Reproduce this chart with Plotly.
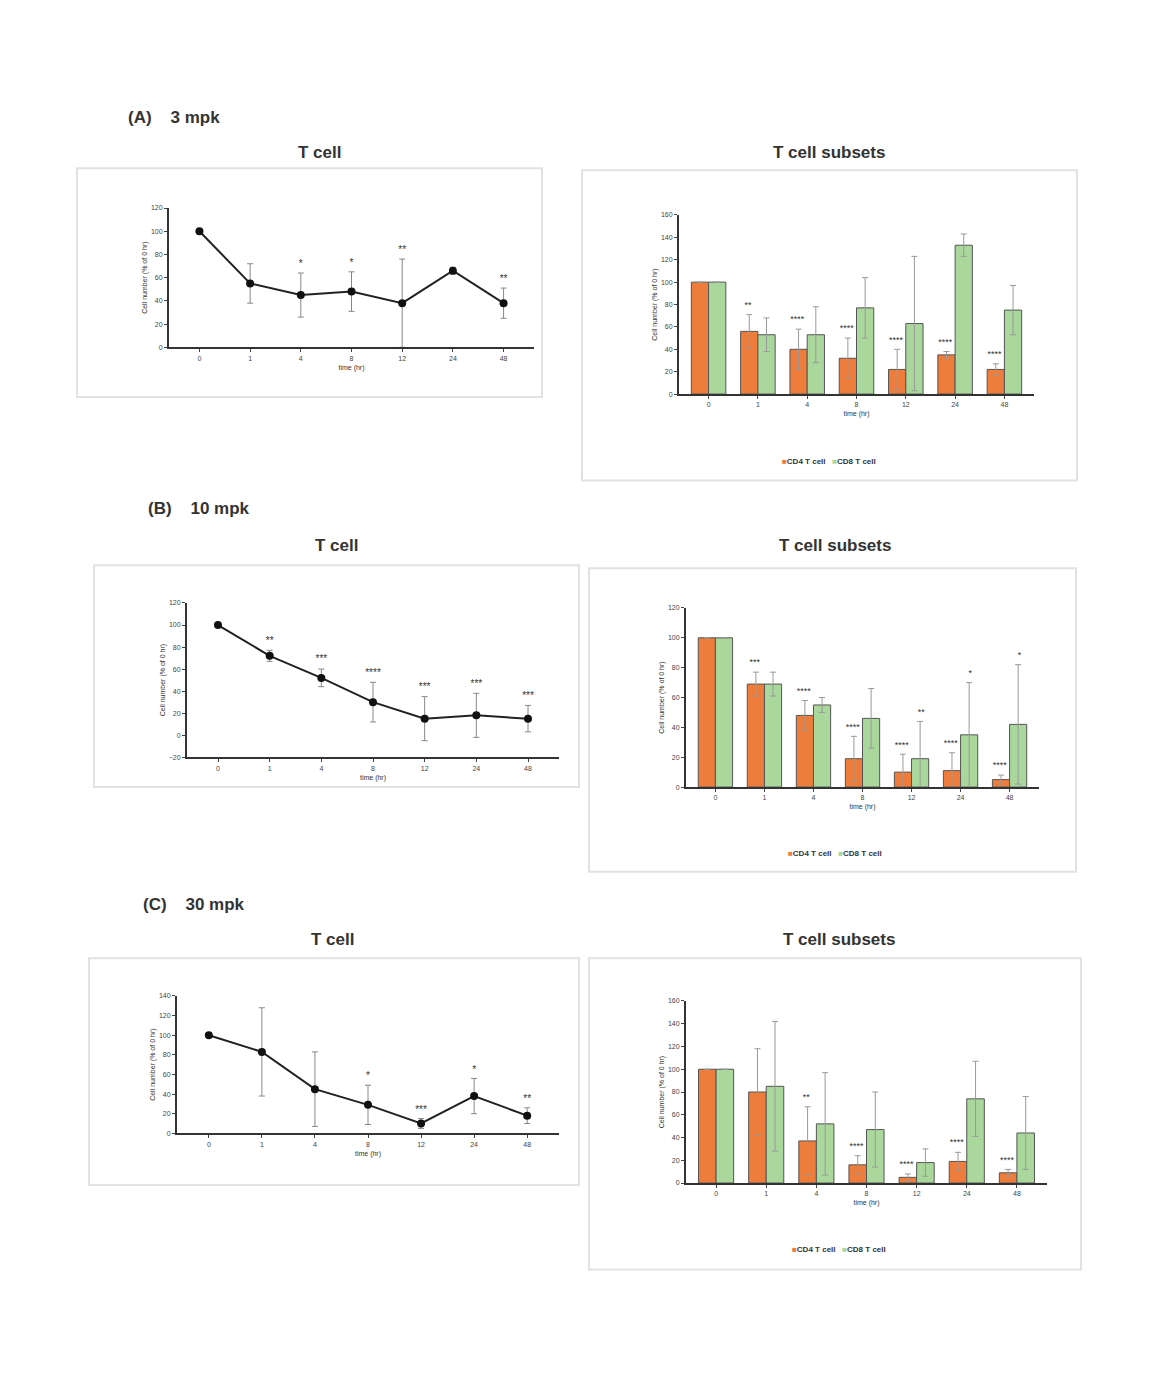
import plotly.graph_objects as go

W, H = 1160, 1384
DX, DY = 9, 11  # page body margin in the browser
HOURS = ["0", "1", "4", "8", "12", "24", "48"]

# panel A, 3 mpk
a_tcell = [100, 55, 45, 48, 38, 66, 38]
a_tcell_err = [0, 17, 19, 17, 38, 3, 13]
a_tcell_sig = ["", "", "*", "*", "**", "", "**"]
a_cd4 = [100, 56, 40, 32, 22, 35, 22]
a_cd4_err = [0, 15, 18, 18, 18, 3, 5]
a_cd4_sig = ["", "**", "****", "****", "****", "****", "****"]
a_cd8 = [100, 53, 53, 77, 63, 133, 75]
a_cd8_err = [0, 15, 25, 27, 60, 10, 22]
a_cd8_sig = ["", "", "", "", "", "", ""]

# panel B, 10 mpk
b_tcell = [100, 72, 52, 30, 15, 18, 15]
b_tcell_err = [0, 5, 8, 18, 20, 20, 12]
b_tcell_sig = ["", "**", "***", "****", "***", "***", "***"]
b_cd4 = [100, 69, 48, 19, 10, 11, 5]
b_cd4_err = [0, 8, 10, 15, 12, 12, 3]
b_cd4_sig = ["", "***", "****", "****", "****", "****", "****"]
b_cd8 = [100, 69, 55, 46, 19, 35, 42]
b_cd8_err = [0, 8, 5, 20, 25, 35, 40]
b_cd8_sig = ["", "", "", "", "**", "*", "*"]

# panel C, 30 mpk
c_tcell = [100, 83, 45, 29, 10, 38, 18]
c_tcell_err = [0, 45, 38, 20, 5, 18, 8]
c_tcell_sig = ["", "", "", "*", "***", "*", "**"]
c_cd4 = [100, 80, 37, 16, 5, 19, 9]
c_cd4_err = [0, 38, 30, 8, 3, 8, 3]
c_cd4_sig = ["", "", "**", "****", "****", "****", "****"]
c_cd8 = [100, 85, 52, 47, 18, 74, 44]
c_cd8_err = [0, 57, 45, 33, 12, 33, 32]
c_cd8_sig = ["", "", "", "", "", "", ""]

ORANGE = "#ee7d3c"
GREEN = "#a9d79c"

fig = go.Figure()
shapes, annots = [], []


def px_dom(x0, x1, y0, y1):
    x0, x1, y0, y1 = x0 - DX, x1 - DX, y0 - DY, y1 - DY
    return [x0 / W, x1 / W], [1 - y1 / H, 1 - y0 / H]


def box(x0, y0, x1, y1):
    xd, yd = px_dom(x0, x1, y0, y1)
    shapes.append(dict(type="rect", xref="paper", yref="paper", x0=xd[0], x1=xd[1],
                       y0=yd[0], y1=yd[1], line=dict(color="#e2e2e2", width=2)))


def text(x, y, s, size, bold=True):
    annots.append(dict(xref="paper", yref="paper", x=(x - DX) / W, y=1 - (y - DY) / H,
                       text=f"<b>{s}</b>" if bold else s,
                       showarrow=False, font=dict(size=size, color="#333"), xanchor="center", yanchor="middle"))


def axes(n, plot, yrange, dtick):
    xd, yd = px_dom(*plot)
    sfx = "" if n == 1 else str(n)
    common = dict(showline=True, linecolor="#333", linewidth=2, ticks="outside", ticklen=3,
                  tickfont=dict(size=7, color="#444"), showgrid=False, zeroline=False,
                  tickvals=list(range(7)) if False else None)
    fig.update_layout(**{
        f"xaxis{sfx}": dict(domain=xd, anchor=f"y{sfx}", type="linear", tickvals=list(range(7)), ticktext=HOURS,
                            range=[-0.6, 6.6], title=dict(text="time (hr)", font=dict(size=7), standoff=4),
                            **{k: v for k, v in common.items() if k != "tickvals"}),
        f"yaxis{sfx}": dict(domain=yd, anchor=f"x{sfx}", range=yrange, dtick=dtick,
                            title=dict(text="Cell number (% of 0 hr)", font=dict(size=7), standoff=2),
                            **{k: v for k, v in common.items() if k != "tickvals"}),
    })
    return f"x{sfx}", f"y{sfx}"


def line_panel(n, plot, vals, err, sig, yrange, dtick):
    xa, ya = axes(n, plot, yrange, dtick)
    xs = list(range(7))
    fig.add_trace(go.Scatter(x=xs, y=vals, xaxis=xa, yaxis=ya, mode="lines+markers",
                             line=dict(color="#222", width=2), marker=dict(size=8, color="#111"),
                             error_y=dict(array=err, color="#888", thickness=1, width=3)))
    fig.add_trace(go.Scatter(x=xs, y=[v + e + (yrange[1] - yrange[0]) * 0.06 for v, e in zip(vals, err)],
                             xaxis=xa, yaxis=ya, mode="text", text=sig, textfont=dict(size=10, color="#333")))


def bar_panel(n, plot, cd4, e4, s4, cd8, e8, s8, yrange, dtick):
    xa, ya = axes(n, plot, yrange, dtick)
    xs = list(range(7))
    for vals, err, sig, col, off in [(cd4, e4, s4, ORANGE, -0.2), (cd8, e8, s8, GREEN, 0.2)]:
        fig.add_trace(go.Bar(x=xs, y=vals, xaxis=xa, yaxis=ya,
                             marker=dict(color=col, line=dict(color="#555", width=1)),
                             error_y=dict(array=err, color="#999", thickness=1, width=3)))
        fig.add_trace(go.Scatter(x=[i + off for i in xs],
                                 y=[v + e + yrange[1] * 0.05 for v, e in zip(vals, err)], xaxis=xa, yaxis=ya,
                                 mode="text", text=sig, textfont=dict(size=9, color="#333")))


LEG = "<span style='color:%s'>■</span>CD4 T cell&nbsp;&nbsp;&nbsp;<span style='color:%s'>■</span>CD8 T cell" % (ORANGE, GREEN)

# panel A
box(78, 168, 543, 398)
box(583, 170, 1078, 482)
line_panel(1, (170, 535, 208, 348), a_tcell, a_tcell_err, a_tcell_sig, [0, 120], 20)
bar_panel(2, (680, 1035, 215, 395), a_cd4, a_cd4_err, a_cd4_sig, a_cd8, a_cd8_err, a_cd8_sig, [0, 160], 20)
text(175, 117, "(A)&nbsp;&nbsp;&nbsp;&nbsp;3 mpk", 17)
text(320, 152, "T cell", 17)
text(830, 152, "T cell subsets", 17)
text(830, 463, LEG, 8)

# panel B
box(95, 567, 580, 790)
box(590, 570, 1077, 875)
line_panel(3, (188, 560, 605, 760), b_tcell, b_tcell_err, b_tcell_sig, [-20, 120], 20)
bar_panel(4, (687, 1040, 610, 790), b_cd4, b_cd4_err, b_cd4_sig, b_cd8, b_cd8_err, b_cd8_sig, [0, 120], 20)
text(200, 510, "(B)&nbsp;&nbsp;&nbsp;&nbsp;10 mpk", 17)
text(337, 547, "T cell", 17)
text(836, 547, "T cell subsets", 17)
text(836, 857, LEG, 8)

# panel C
box(90, 962, 580, 1190)
box(590, 962, 1082, 1275)
line_panel(5, (178, 560, 1000, 1138), c_tcell, c_tcell_err, c_tcell_sig, [0, 140], 20)
bar_panel(6, (687, 1048, 1005, 1188), c_cd4, c_cd4_err, c_cd4_sig, c_cd8, c_cd8_err, c_cd8_sig, [0, 160], 20)
text(195, 908, "(C)&nbsp;&nbsp;&nbsp;&nbsp;30 mpk", 17)
text(333, 943, "T cell", 17)
text(840, 943, "T cell subsets", 17)
text(840, 1255, LEG, 8)

fig.update_layout(width=W, height=H, margin=dict(l=0, r=0, t=0, b=0), showlegend=False,
                  barmode="group", bargap=0.3, bargroupgap=0.0,
                  plot_bgcolor="white", paper_bgcolor="white",
                  font=dict(family="Liberation Sans, Arial", color="#333"),
                  shapes=shapes, annotations=annots)
fig.write_html("out.html")
